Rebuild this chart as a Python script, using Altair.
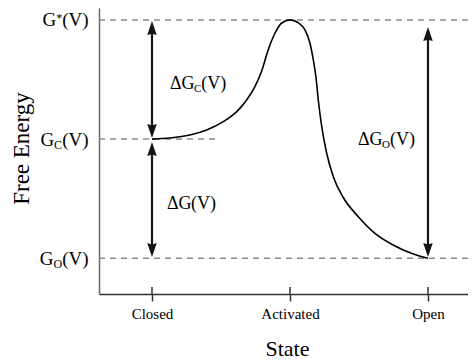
import altair as alt
import pandas as pd

FONT = "Liberation Serif"

# ---- categories / axes ----
states = ["Closed", "Activated", "Open"]
state_pos = [1, 2, 3]
x_min, x_max = 0.616, 3.29
y_min, y_max = -0.3, 2.1
x_title = "State"
y_title = "Free Energy"

# ---- energy levels ----
level_script = ["*", "C", "O"]
level_kind = ["sup", "sub", "sub"]
level_values = [2.0, 1.0, 0.0]
level_line_end = [3.29, 1.46, 3.29]

# ---- free-energy curve ----
curve_x = [1.000, 1.130, 1.275, 1.396, 1.517, 1.614, 1.686, 1.746, 1.793, 1.842,
           1.891, 1.938, 2.000, 2.060, 2.109, 2.145, 2.169, 2.188, 2.205, 2.230,
           2.266, 2.314, 2.384, 2.495, 2.616, 2.761, 2.884, 3.000]
curve_y = [1.000, 1.009, 1.034, 1.076, 1.146, 1.230, 1.328, 1.440, 1.565, 1.748,
           1.888, 1.972, 2.000, 1.977, 1.915, 1.804, 1.664, 1.523, 1.328, 1.104,
           0.881, 0.684, 0.514, 0.349, 0.209, 0.103, 0.040, 0.000]

# ---- double arrows ----
arrow_x = [1, 1, 3]
arrow_top = [1.99, 0.976, 1.94]
arrow_bottom = [1.009, 0.01, 0.01]

# ---- delta labels ----
delta_script = ["C", "", "O"]
delta_x = [1, 1, 3]
delta_y = [1.42, 0.413, 0.95]
delta_side = ["left", "left", "right"]
delta_dx = [18, 15, -13]

W_PLOT, H_PLOT = 369, 286
xs = alt.Scale(domain=[x_min, x_max], nice=False, zero=False)
ys = alt.Scale(domain=[y_min, y_max], nice=False, zero=False)

label_expr = "".join(
    f"datum.value == {p} ? '{s}' : " for p, s in zip(state_pos, states)
) + "''"

x_axis = alt.Axis(
    values=state_pos, labelExpr=label_expr, grid=False, title=None,
    tickSize=7, tickColor="#333", tickWidth=1.5,
    domainColor="#333", domainWidth=1.5,
    labelFont=FONT, labelFontSize=15, labelColor="black", labelPadding=5,
)
y_axis = alt.Axis(
    ticks=False, labels=False, grid=False, title=None,
    domainColor="#666", domainWidth=1.5,
)


def ex(field):
    return alt.X(field, type="quantitative", scale=xs, axis=x_axis)


def ey(field):
    return alt.Y(field, type="quantitative", scale=ys, axis=y_axis)


# dashed level lines
lines_df = pd.DataFrame({"x": [x_min] * len(level_values), "x2": level_line_end,
                         "y": level_values})
dashed = alt.Chart(lines_df).mark_rule(
    color="#8a8a8a", strokeDash=[6, 5], strokeWidth=1.5
).encode(x=ex("x"), x2="x2:Q", y=ey("y"))

# inner halves of the x ticks
ticks_df = pd.DataFrame({"x": state_pos, "y0": [y_min] * len(state_pos)})
inner_ticks = alt.Chart(ticks_df).mark_rule(
    color="#333", strokeWidth=1.5, y2Offset=-7
).encode(x=ex("x"), y=ey("y0"), y2="y0:Q")

# curve
curve_df = pd.DataFrame({"x": curve_x, "y": curve_y})
curve = alt.Chart(curve_df).mark_line(
    color="black", strokeWidth=1.6, interpolate="monotone"
).encode(x=ex("x"), y=ey("y"))

# arrows
arrow_df = pd.DataFrame({"x": arrow_x, "y": arrow_top, "y2": arrow_bottom})
ARROW_COLOR = "#151515"
shafts = alt.Chart(arrow_df).mark_rule(
    color=ARROW_COLOR, strokeWidth=2.2, yOffset=4, y2Offset=-4
).encode(x=ex("x"), y=ey("y"), y2="y2:Q")
head_up = alt.Chart(arrow_df).mark_point(
    shape="M0,0L-0.34,1L0,0.9L0.34,1Z", size=784, filled=True,
    color=ARROW_COLOR, opacity=1, strokeWidth=0
).encode(x=ex("x"), y=ey("y"))
head_down = alt.Chart(arrow_df).mark_point(
    shape="M0,0L-0.34,-1L0,-0.9L0.34,-1Z", size=784, filled=True,
    color=ARROW_COLOR, opacity=1, strokeWidth=0
).encode(x=ex("x"), y=ey("y2"))

# axis titles as text marks (serif)
xt_df = pd.DataFrame({"x": [2], "y": [y_min], "t": [x_title]})
x_title_mark = alt.Chart(xt_df).mark_text(
    align="center", baseline="alphabetic", dx=-2.5, dy=62,
    fontSize=22, font=FONT, color="black"
).encode(x=ex("x"), y=ey("y"), text="t:N")

yt_df = pd.DataFrame({"x": [x_min], "y": [0.921], "t": [y_title]})
y_title_mark = alt.Chart(yt_df).mark_text(
    align="center", baseline="alphabetic", angle=270, dy=-70,
    fontSize=23, font=FONT, color="black"
).encode(x=ex("x"), y=ey("y"), text="t:N")

# ---- composed text (main + sub/superscript + "(V)") ----
CW = {"G": 0.722, "Δ": 0.612, "(": 0.333, ")": 0.333, "V": 0.722,
      "C": 0.667, "O": 0.722, "*": 0.5}


def text_width(s, size):
    return sum(CW.get(c, 0.5) for c in s) * size


def composed(x, y, pieces, anchor_dx, side):
    widths = [text_width(t, s) for t, s, _ in pieces]
    total = sum(widths)
    cur = anchor_dx if side == "left" else anchor_dx - total
    out = []
    for (t, s, dy), w in zip(pieces, widths):
        if t:
            df = pd.DataFrame({"x": [x], "y": [y], "t": [t]})
            out.append(
                alt.Chart(df).mark_text(
                    align="left", baseline="alphabetic", dx=cur, dy=dy,
                    fontSize=s, font=FONT, color="black"
                ).encode(x=ex("x"), y=ey("y"), text="t:N")
            )
        cur += w
    return out


text_layers = []
for scr, kind, lv in zip(level_script, level_kind, level_values):
    sdy = 2 if kind == "sup" else 9.5
    text_layers += composed(
        x_min, lv, [("G", 19, 6.5), (scr, 12, sdy), ("(V)", 19, 6.5)], -10.5, "right"
    )
for scr, dx_, dy_, side, adx in zip(delta_script, delta_x, delta_y, delta_side, delta_dx):
    text_layers += composed(
        dx_, dy_, [("ΔG", 18, 0), (scr, 11, 3), ("(V)", 18, 0)], adx, side
    )

chart = alt.layer(
    dashed, inner_ticks, curve, shafts, head_up, head_down,
    x_title_mark, y_title_mark, *text_layers
).properties(
    width=W_PLOT, height=H_PLOT,
    autosize=alt.AutoSizeParams(type="none"),
    padding={"left": 91, "top": 0, "right": 0, "bottom": 68},
).configure_view(
    stroke=None
)

chart.save("out.html", embed_options={"renderer": "svg", "actions": False})
